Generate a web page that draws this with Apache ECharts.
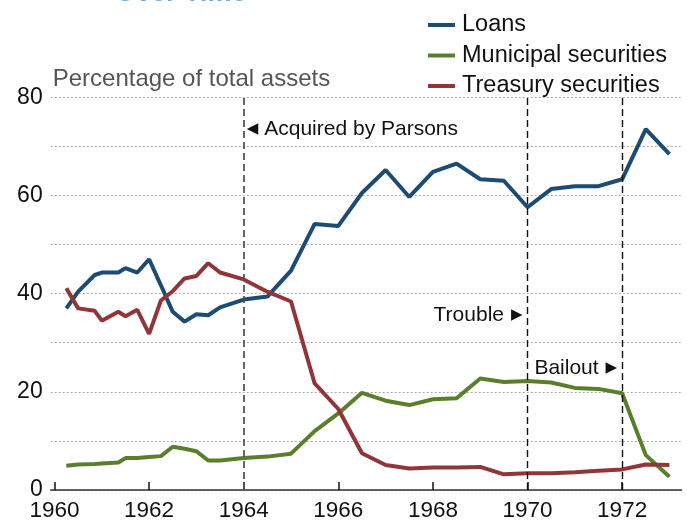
<!DOCTYPE html>
<html>
<head>
<meta charset="utf-8">
<script src="https://cdn.jsdelivr.net/npm/echarts@6/dist/echarts.min.js"></script>
<style>
html,body{margin:0;padding:0;background:#fff;}
#chart{width:687px;height:523px;}
</style>
</head>
<body>
<div id="chart"></div>
<script>
// ---- data ----
var dates = [1960.25,1960.5,1960.85,1961.0,1961.35,1961.5,1961.75,1962.0,1962.25,1962.5,1962.75,1963.0,1963.25,1963.5,
  1964.0,1964.5,1965.0,1965.5,1966.0,1966.5,1967.0,1967.5,1968.0,1968.5,1969.0,1969.5,1970.0,1970.5,1971.0,1971.5,1972.0,1972.5,1973.0];
var loans = [37.0,40.4,43.8,44.3,44.3,45.2,44.3,47.0,41.7,36.3,34.3,35.8,35.6,37.2,
  38.8,39.4,44.7,54.2,53.8,60.5,65.2,59.7,64.8,66.5,63.3,63.0,57.6,61.3,61.9,61.9,63.3,73.5,68.4];
var municipal = [4.95,5.2,5.3,5.4,5.6,6.5,6.5,6.7,6.9,8.8,8.4,7.9,6.0,6.0,
  6.5,6.8,7.4,12.0,15.6,19.8,18.2,17.3,18.5,18.7,22.7,22.0,22.2,21.9,20.8,20.6,19.7,7.1,2.7];
var treasury = [41.1,37.0,36.5,34.5,36.3,35.4,36.7,31.8,38.6,40.5,43.1,43.6,46.2,44.3,
  42.9,40.4,38.4,21.7,16.5,7.5,5.1,4.4,4.6,4.6,4.7,3.2,3.4,3.4,3.6,3.9,4.2,5.2,5.1];
var xTicks = [1960,1962,1964,1966,1968,1970,1972];
var seriesNames = ['Loans','Municipal securities','Treasury securities'];
var eventYears = [1964,1970,1972];
var annotations = [
  {text:'Acquired by Parsons', year:1964, value:73.6, side:'right'},
  {text:'Trouble', year:1970, value:35.6, side:'left'},
  {text:'Bailout', year:1972, value:24.8, side:'left'}
];
var yAxisTitle = 'Percentage of total assets';
var chartTitle = 'Over Time';

function pairs(vals){ return dates.map(function(d,i){ return [d, vals[i]]; }); }

var FONT = '"Liberation Sans", Arial, Helvetica, sans-serif';
var colors = ['#1d4b74','#5a7f2c','#923539'];

var chart = echarts.init(document.getElementById('chart'), null, {renderer:'canvas'});
var option = {
  animation:false,
  textStyle:{fontFamily:FONT},
  title:{text:chartTitle, left:110, top:-25, textStyle:{fontSize:27, fontWeight:'bold', color:'#6aaedb', fontFamily:FONT}},
  legend:{
    data:seriesNames, orient:'vertical', left:423, top:8, itemWidth:27, itemHeight:4, itemGap:6.5,
    icon:'rect', textStyle:{fontSize:23.5, color:'#111', padding:[0,0,0,2]}
  },
  grid:{left:50.7, right:5.5, top:97.3, bottom:33, containLabel:false},
  xAxis:{
    type:'value', min:1959.92, max:1973.255,
    axisLine:{show:true, lineStyle:{color:'#333', width:1.5}},
    axisTick:{show:true, inside:true, length:8, customValues:xTicks, lineStyle:{color:'#111', width:1.5}},
    axisLabel:{customValues:xTicks, fontSize:22.5, color:'#111', margin:9, formatter:function(v){return String(v);}},
    splitLine:{show:false}
  },
  yAxis:{
    type:'value', min:0, max:80, interval:10,
    name:yAxisTitle, nameLocation:'end', nameGap:18,
    nameTextStyle:{fontSize:24, color:'#555', align:'left', verticalAlign:'middle', padding:[0,0,0,2]},
    axisLine:{show:false}, axisTick:{show:false},
    axisLabel:{fontSize:23, color:'#111', margin:8, formatter:function(v){return v%20===0?String(v):'';}},
    splitLine:{show:true, lineStyle:{color:'#aaa', type:[2,2], width:1}}
  },
  series:[
    {name:seriesNames[0], type:'line', data:pairs(loans), showSymbol:false, lineStyle:{width:4, color:colors[0]}, itemStyle:{color:colors[0]}, z:3,
     markLine:{silent:true, symbol:['none','none'], label:{show:false},
       data:eventYears.map(function(y,i){return {xAxis:y, lineStyle:{color:i===0?'#555':'#111', width:i===0?1.8:1.4, type:[7,4]}};})}},
    {name:seriesNames[1], type:'line', data:pairs(municipal), showSymbol:false, lineStyle:{width:4, color:colors[1]}, itemStyle:{color:colors[1]}, z:3},
    {name:seriesNames[2], type:'line', data:pairs(treasury), showSymbol:false, lineStyle:{width:4, color:colors[2]}, itemStyle:{color:colors[2]}, z:3},
    {name:'annotations', type:'line', data:[], silent:true,
     markPoint:{symbol:'circle', symbolSize:0, silent:true,
       data:annotations.map(function(a){
         return {coord:[a.year,a.value], label:{show:true, position:a.side, distance:a.side==='right'?3:5,
           formatter:a.side==='right' ? '{t|◀}'+a.text : a.text+'{t|▶}',
           fontSize:21, color:'#111', fontFamily:FONT,
           rich:{t:{fontSize:15, fontFamily:'"DejaVu Sans"', color:'#111', padding:a.side==='right'?[0,6,0,0]:[0,0,0,7]}}}};
       })}}
  ]
};
chart.setOption(option);
</script>
</body>
</html>
